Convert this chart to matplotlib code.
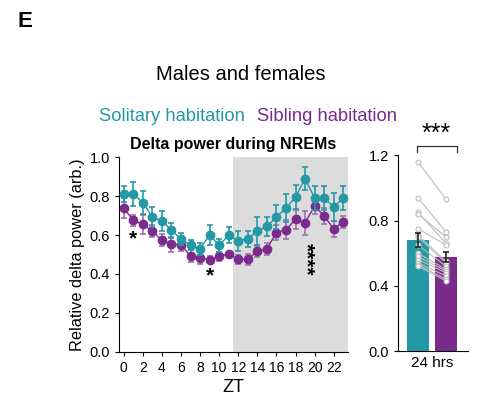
import numpy as np
import matplotlib
matplotlib.use('Agg')
import matplotlib.pyplot as plt

plt.rcParams['font.family'] = ['Liberation Sans', 'DejaVu Sans']

teal = '#2399a6'
purple = '#7b2b8c'

# hourly delta power, ZT 0..23
zt = np.arange(24)
solitary = [0.81, 0.81, 0.766, 0.692, 0.672, 0.624, 0.581, 0.547, 0.53, 0.60, 0.547, 0.60,
            0.569, 0.581, 0.62, 0.644, 0.692, 0.738, 0.795, 0.889, 0.79, 0.79, 0.744, 0.79]
solitary_err = [0.04, 0.06, 0.06, 0.05, 0.05, 0.04, 0.03, 0.025, 0.03, 0.05, 0.035, 0.04,
                0.05, 0.04, 0.07, 0.05, 0.06, 0.07, 0.06, 0.06, 0.06, 0.06, 0.07, 0.06]
sibling = [0.738, 0.675, 0.655, 0.62, 0.573, 0.552, 0.55, 0.492, 0.482, 0.474, 0.49, 0.504,
           0.475, 0.475, 0.516, 0.53, 0.612, 0.627, 0.68, 0.662, 0.749, 0.697, 0.632, 0.667]
sibling_err = [0.05, 0.03, 0.05, 0.03, 0.03, 0.04, 0.03, 0.03, 0.03, 0.02, 0.025, 0.01,
               0.025, 0.03, 0.03, 0.03, 0.04, 0.05, 0.05, 0.06, 0.04, 0.04, 0.04, 0.03]

# 24 h averages, per animal
bar_means = [0.68, 0.577]
bar_errs = [0.045, 0.033]
solitary_24h = [1.16, 0.94, 0.85, 0.84, 0.75, 0.71, 0.70, 0.65, 0.60, 0.58, 0.56, 0.54, 0.53, 0.52]
sibling_24h = [0.93, 0.73, 0.66, 0.70, 0.65, 0.55, 0.54, 0.52, 0.50, 0.49, 0.48, 0.46, 0.44, 0.43]

fig = plt.figure(figsize=(4.79, 4.05), dpi=100)

# ---- left panel: time course
ax = fig.add_axes([0.2484, 0.1309, 0.4781, 0.4814])
ax.axvspan(11.5, 23.5, color='#dcdcdc', lw=0, zorder=0)
ax.errorbar(zt, sibling, yerr=sibling_err, color=purple, ecolor='#a070ad', marker='o',
            ms=6, lw=1, elinewidth=1.2, capsize=2, capthick=1.2, zorder=3)
ax.errorbar(zt, solitary, yerr=solitary_err, color=teal, marker='o',
            ms=6, lw=1, elinewidth=1.2, capsize=2, capthick=1.2, zorder=4)
ax.set_xlim(-0.5, 23.5)
ax.set_ylim(0, 1.0)
ax.set_xticks(np.arange(0, 23, 2))
ax.set_yticks(np.arange(0, 1.01, 0.2))
ax.set_yticklabels(['%.1f' % v for v in np.arange(0, 1.01, 0.2)])
for s in ['top', 'right']:
    ax.spines[s].set_visible(False)
ax.tick_params(axis='x', labelsize=10, length=3)
ax.tick_params(axis='y', labelsize=10.5, length=3)
ax.set_xlabel('ZT', fontsize=13, labelpad=3)
ax.set_ylabel('Relative delta power (arb.)', fontsize=11.8, labelpad=3)
ax.set_title('Delta power during NREMs', fontsize=11.5, fontweight='bold', pad=6)
ax.text(1, 0.58, '*', ha='center', va='center', fontsize=15, fontweight='bold')
ax.text(9, 0.39, '*', ha='center', va='center', fontsize=15, fontweight='bold')
ax.text(19.1, 0.475, '****', ha='center', va='center', fontsize=15, fontweight='bold',
        rotation=-90)

# ---- right panel: 24 h bars
bx = fig.add_axes([0.8309, 0.1333, 0.1461, 0.4832])
bx.bar([0, 1], bar_means, width=0.79, color=[teal, purple], zorder=1)
for a, b in zip(solitary_24h, sibling_24h):
    bx.plot([0, 1], [a, b], color='#bdbdbd', lw=0.8, marker='o', ms=3.5,
            mfc='white', mec='#bdbdbd', mew=0.8, zorder=2)
bx.errorbar([0, 1], bar_means, yerr=bar_errs, fmt='none', ecolor='#222222',
            elinewidth=1.2, capsize=2.5, capthick=1.2, zorder=3)
bx.set_xlim(-0.714, 1.786)
bx.set_ylim(0, 1.2)
bx.set_yticks([0, 0.4, 0.8, 1.2])
bx.set_yticklabels(['0.0', '0.4', '0.8', '1.2'])
bx.set_xticks([0.5])
bx.set_xticklabels(['24 hrs'])
bx.tick_params(axis='x', length=0, labelsize=11)
bx.tick_params(axis='y', labelsize=10.5, length=3)
for s in ['top', 'right']:
    bx.spines[s].set_visible(False)
bx.plot([-0.05, -0.05, 1.38, 1.38], [1.22, 1.255, 1.255, 1.22], color='#333333', lw=0.9,
        clip_on=False)
bx.text(0.66, 1.33, '***', ha='center', va='center', fontsize=18, clip_on=False)

# ---- headings
fig.text(0.053, 0.946, 'E', fontsize=16, fontweight='bold', ha='center', va='center')
fig.text(0.503, 0.815, 'Males and females', fontsize=14.5, ha='center', va='center')
fig.text(0.207, 0.713, 'Solitary habitation', fontsize=13.2, color=teal, ha='left', va='center')
fig.text(0.537, 0.713, 'Sibling habitation', fontsize=13.2, color=purple, ha='left', va='center')

fig.savefig('out.png', dpi=100)
